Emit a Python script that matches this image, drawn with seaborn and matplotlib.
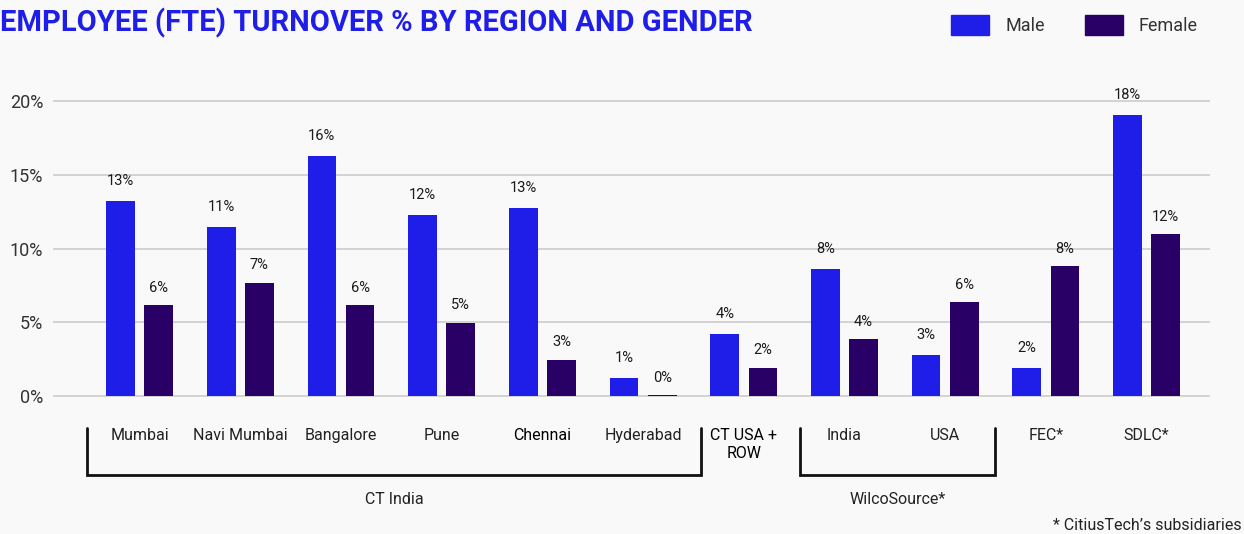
import pandas as pd
import matplotlib.pyplot as plt
import matplotlib.patches as mpatches
from matplotlib.transforms import blended_transform_factory
import seaborn as sns

regions = ['Mumbai', 'Navi Mumbai', 'Bangalore', 'Pune', 'Chennai', 'Hyderabad',
           'CT USA +\nROW', 'India', 'USA', 'FEC*', 'SDLC*']
male = [13.2, 11.45, 16.25, 12.25, 12.75, 1.2, 4.2, 8.6, 2.8, 1.9, 19.05]
female = [6.15, 7.65, 6.15, 4.95, 2.45, 0.05, 1.9, 3.85, 6.35, 8.8, 10.95]
male_labels = ['13%', '11%', '16%', '12%', '13%', '1%', '4%', '8%', '3%', '2%', '18%']
female_labels = ['6%', '7%', '6%', '5%', '3%', '0%', '2%', '4%', '6%', '8%', '12%']

# groups drawn with brackets under the axis: (label, first idx, last idx)
brackets = [('CT India', 0, 5), ('WilcoSource*', 7, 8)]
# how far each bracket reaches past its outer categories (left, right)
bracket_pad = {'CT India': (0.52, 0.58), 'WilcoSource*': (0.44, 0.49)}

MALE_C = '#1E1EE8'
FEMALE_C = '#290066'
BG = '#F9F9F9'

df = pd.DataFrame({
    'Region': regions * 2,
    'Gender': ['Male'] * len(regions) + ['Female'] * len(regions),
    'Turnover': male + female,
})

sns.set_theme(style='white')
plt.rcParams['font.family'] = ['Roboto', 'DejaVu Sans']

fig = plt.figure(figsize=(12.44, 5.34), dpi=100, facecolor=BG)
ax = fig.add_axes([53 / 1244, 1 - 403.4 / 534, (1210 - 53) / 1244, (403.4 - 86.25) / 534])
ax.set_facecolor(BG)

sns.barplot(data=df, x='Region', y='Turnover', hue='Gender', order=regions,
            hue_order=['Male', 'Female'], palette=[MALE_C, FEMALE_C], saturation=1,
            width=0.76, gap=0.25, linewidth=0, legend=False, ax=ax, zorder=3)

ax.set_xlim(-0.86, 10.63)
ax.set_ylim(-0.5, 21)
ax.set_yticks([0, 5, 10, 15, 20])
ax.set_yticklabels(['0%', '5%', '10%', '15%', '20%'], fontsize=13, color='#333333')
ax.yaxis.grid(True, color='#CFCFCF', linewidth=1.3, zorder=0)
ax.tick_params(axis='y', length=0, pad=7)
ax.tick_params(axis='x', length=0, pad=18)
ax.set_xticks(range(len(regions)))
ax.set_xticklabels(regions, fontsize=11.5, color='#222222')
for lbl in ax.get_xticklabels():
    if lbl.get_text() in ('Chennai', 'CT USA +\nROW'):
        lbl.set_color('#000000')
ax.set_xlabel('')
ax.set_ylabel('')
for s in ax.spines.values():
    s.set_visible(False)

# value labels
for i in range(len(regions)):
    ax.text(i - 0.19, male[i] + 1.35, male_labels[i], ha='center', va='center',
            fontsize=10.5, color='#1A1A1A')
    ax.text(i + 0.19, female[i] + 1.2, female_labels[i], ha='center', va='center',
            fontsize=10.5, color='#1A1A1A')

# brackets under the categories
tr = blended_transform_factory(ax.transData, fig.transFigure)
y_top = 1 - 428 / 534
y_bot = 1 - 475 / 534
for name, a, b in brackets:
    pl, pr = bracket_pad[name]
    x0, x1 = a - pl, b + pr
    ax.plot([x0, x0, x1, x1], [y_top, y_bot, y_bot, y_top], transform=tr,
            color='#111111', linewidth=2, clip_on=False, solid_joinstyle='miter')
    ax.text((x0 + x1) / 2, 1 - 500 / 534, name, transform=tr, ha='center', va='center',
            fontsize=11.5, color='#222222')

fig.text(0.0, 1 - 23 / 534, 'EMPLOYEE (FTE) TURNOVER % BY REGION AND GENDER',
         ha='left', va='center', fontsize=21, fontweight='bold', color='#1E1EE8')

handles = [mpatches.Patch(color=MALE_C, label='Male'),
           mpatches.Patch(color=FEMALE_C, label='Female')]
fig.legend(handles=handles, loc='center right', bbox_to_anchor=(1214 / 1244, 1 - 25 / 534),
           ncol=2, frameon=False, fontsize=13, handlelength=2.1, handleheight=1.4,
           handletextpad=0.9, columnspacing=2.2, labelcolor='#333333')

fig.text(1242 / 1244, 1 - 525 / 534, '* CitiusTech\u2019s subsidiaries', ha='right', va='center',
         fontsize=11.5, color='#222222')

fig.savefig('out.png', dpi=100, facecolor=BG)
